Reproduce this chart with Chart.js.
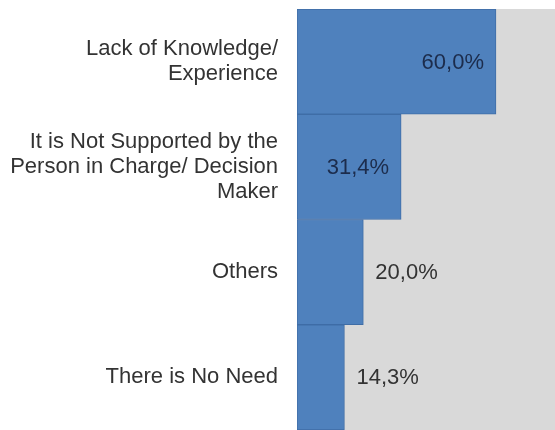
<!DOCTYPE html>
<html>
<head>
<meta charset="utf-8">
<script src="https://cdn.jsdelivr.net/npm/chart.js@4/dist/chart.umd.min.js"></script>
<style>
  html, body { margin: 0; padding: 0; background: #fff; }
</style>
</head>
<body>
<canvas id="chartCanvas" width="555" height="430"></canvas>
<script>
// reasons, one array entry per line of the axis label
const categories = [
    ['Lack of Knowledge/', 'Experience'],
    ['It is Not Supported by the', 'Person in Charge/ Decision', 'Maker'],
    ['Others'],
    ['There is No Need']
];
const shares = [60.0, 31.4, 20.0, 14.3];

const FONT = '"Liberation Sans", Arial, sans-serif';

// grey plot background behind the bars
const plotBackground = {
    id: 'plotBackground',
    beforeDraw(chart) {
        const { ctx, chartArea } = chart;
        ctx.save();
        ctx.fillStyle = '#d9d9d9';
        ctx.fillRect(chartArea.left, chartArea.top, chartArea.right - chartArea.left, chartArea.bottom - chartArea.top);
        ctx.restore();
    }
};

// percentage labels: inside the long bars, after the short ones
const valueLabels = {
    id: 'valueLabels',
    afterDatasetsDraw(chart) {
        const { ctx } = chart;
        const meta = chart.getDatasetMeta(0);
        ctx.save();
        ctx.font = '22px ' + FONT;
        ctx.textBaseline = 'middle';
        meta.data.forEach((bar, i) => {
            const v = chart.data.datasets[0].data[i];
            const text = v.toFixed(1).replace('.', ',') + '%';
            if (v >= 30) {
                ctx.fillStyle = '#1c2c4c';
                ctx.textAlign = 'right';
                ctx.fillText(text, bar.x - 12, bar.y + 1);
            } else {
                ctx.fillStyle = '#333333';
                ctx.textAlign = 'left';
                ctx.fillText(text, bar.x + 12, bar.y + 1);
            }
        });
        ctx.restore();
    }
};

const ctx = document.getElementById('chartCanvas').getContext('2d');
new Chart(ctx, {
    type: 'bar',
    data: {
        labels: categories,
        datasets: [{
            data: shares,
            backgroundColor: '#4f81bd',
            borderColor: '#3f6da6',
            borderWidth: 1,
            borderSkipped: false,
            categoryPercentage: 1,
            barPercentage: 1
        }]
    },
    options: {
        indexAxis: 'y',
        responsive: false,
        animation: false,
        layout: { padding: { top: 9, right: 0, bottom: 0, left: 0 } },
        plugins: {
            legend: { display: false },
            tooltip: { enabled: false }
        },
        scales: {
            x: {
                display: false,
                min: 0,
                max: 77.8
            },
            y: {
                grid: { display: false, drawTicks: false },
                border: { display: false },
                ticks: {
                    color: '#333333',
                    padding: 19,
                    font: { family: FONT, size: 22, lineHeight: 1.14 }
                },
                afterFit(scale) {
                    // fixed axis width, and no extra room for the label overhang
                    scale.width = 297;
                    scale.paddingTop = 0;
                    scale.paddingBottom = 0;
                }
            }
        }
    },
    plugins: [plotBackground, valueLabels]
});
</script>
</body>
</html>
